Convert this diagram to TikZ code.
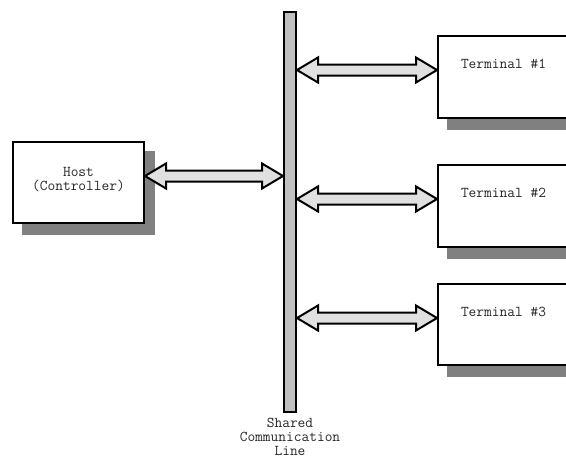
\documentclass[tikz,border=0pt]{standalone}
\usetikzlibrary{calc,backgrounds}
\definecolor{barfill}{HTML}{C0C0C0}
\definecolor{arrfill}{HTML}{E0E0E0}
\definecolor{shadowc}{HTML}{808080}
\tikzset{
  box/.style={draw=black, line width=2pt, fill=white, minimum width=131pt, anchor=north west, inner sep=0pt},
  lbl/.style={font=\ttfamily\fontsize{15}{14}\selectfont, align=center, inner sep=0pt, text=black!85},
  fatarrow/.style={draw=black, line width=2pt, fill=arrfill, line join=miter},
  shade/.style={fill=shadowc},
}
\begin{document}
\begin{tikzpicture}[x=1pt,y=-1pt]
\useasboundingbox (0,0) rectangle (566,459);
% bar
\node[draw=black, line width=2pt, fill=barfill, minimum width=12pt, minimum height=400pt, inner sep=0pt, anchor=north] (bar) at (290,11) {};
\node[lbl, anchor=north] (barlbl) at (290,418) {Shared\\Communication\\Line};
% boxes
\node[box, minimum height=81pt] (host) at (12,141) {};
\node[box, minimum height=82pt] (t1) at (437,35) {};
\node[box, minimum height=82pt] (t2) at (437,164) {};
\node[box, minimum height=81pt] (t3) at (437,283) {};
\begin{scope}[on background layer]
  \foreach \n in {host,t1,t2,t3}{
    \fill[shade] ($(\n.north west)+(10,10)$) rectangle ($(\n.south east)+(10,11)$);
  }
\end{scope}
\node[lbl] at ($(host.center)+(0,-3)$) {Host\\(Controller)};
\node[lbl] at ($(t1.north)+(0,29)$) {Terminal \#1};
\node[lbl] at ($(t2.north)+(0,29)$) {Terminal \#2};
\node[lbl] at ($(t3.north)+(0,29)$) {Terminal \#3};
% fat double arrows
\foreach \a/\b/\r in {host/bar/host,bar/t1/t1,bar/t2/t2,bar/t3/t3}{
  \path[fatarrow] let \p2=($(\r.north west)+(0,35)$) in
    let \p3=(\a.east|-\p2), \p4=(\b.west|-\p2) in
    (\x3,\y3) -- (\x3+21pt,\y3+12.5pt) -- (\x3+21pt,\y3+5.5pt) -- (\x4-21pt,\y3+5.5pt)
    -- (\x4-21pt,\y3+12.5pt) -- (\x4,\y3) -- (\x4-21pt,\y3-12.5pt) -- (\x4-21pt,\y3-5.5pt)
    -- (\x3+21pt,\y3-5.5pt) -- (\x3+21pt,\y3-12.5pt) -- cycle;
}
\end{tikzpicture}
\end{document}
